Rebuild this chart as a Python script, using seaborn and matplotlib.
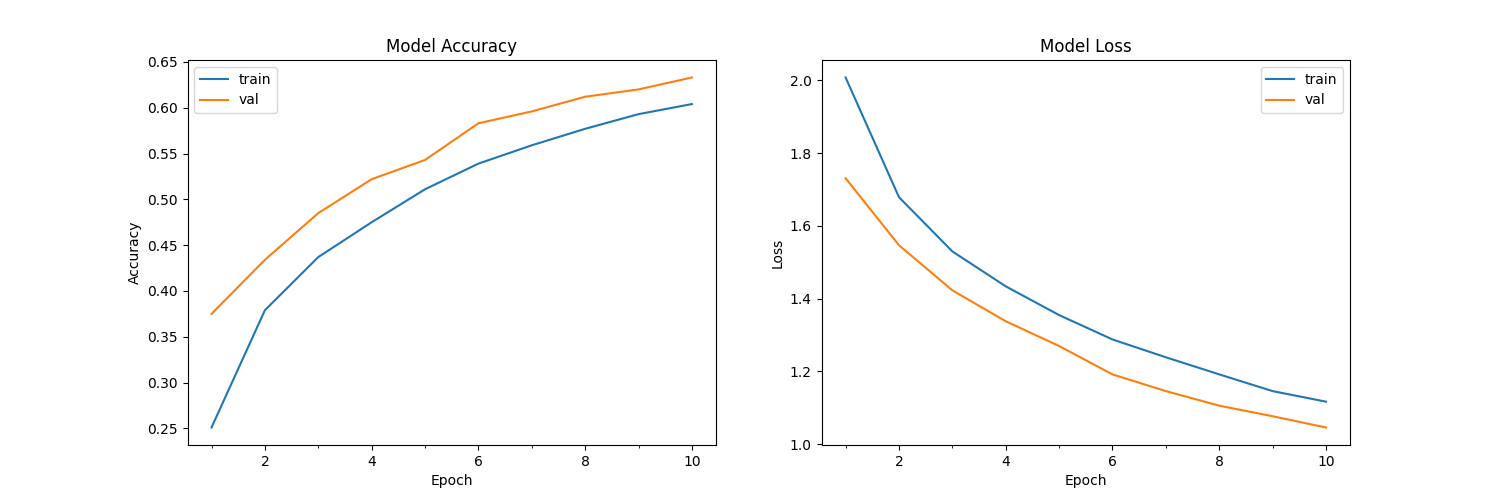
import matplotlib
matplotlib.use("Agg")
import matplotlib.pyplot as plt
import seaborn as sns
import pandas as pd
from matplotlib.ticker import MultipleLocator

epochs = [1, 2, 3, 4, 5, 6, 7, 8, 9, 10]
train_acc = [0.251, 0.379, 0.437, 0.475, 0.511, 0.539, 0.559, 0.577, 0.593, 0.604]
val_acc = [0.375, 0.434, 0.485, 0.522, 0.543, 0.583, 0.596, 0.612, 0.620, 0.633]
train_loss = [2.008, 1.679, 1.530, 1.434, 1.355, 1.288, 1.239, 1.192, 1.146, 1.117]
val_loss = [1.731, 1.547, 1.423, 1.338, 1.270, 1.192, 1.146, 1.106, 1.077, 1.046]

fig, axes = plt.subplots(1, 2, figsize=(15, 5), dpi=100)

def draw(ax, train, val, title, ylabel, loc):
    df = pd.DataFrame({"Epoch": epochs * 2,
                       "value": train + val,
                       "set": ["train"] * len(epochs) + ["val"] * len(epochs)})
    sns.lineplot(data=df, x="Epoch", y="value", hue="set", ax=ax,
                 palette=["#1f77b4", "#ff7f0e"])
    ax.set_title(title)
    ax.set_ylabel(ylabel)
    ax.set_xlabel("Epoch")
    ax.xaxis.set_minor_locator(MultipleLocator(1))
    ax.legend(loc=loc, title=None)

draw(axes[0], train_acc, val_acc, "Model Accuracy", "Accuracy", "upper left")
draw(axes[1], train_loss, val_loss, "Model Loss", "Loss", "upper right")

fig.savefig("out.png")
